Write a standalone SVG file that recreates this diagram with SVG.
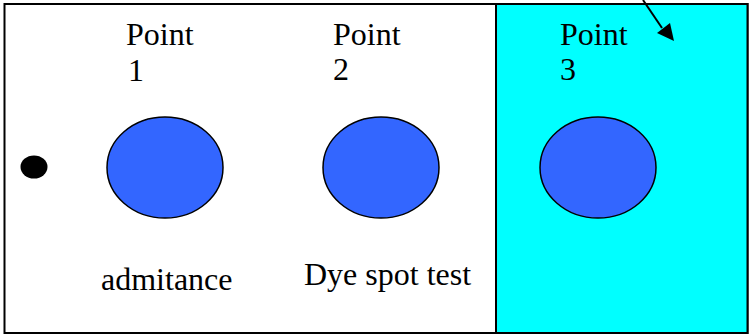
<svg xmlns="http://www.w3.org/2000/svg" width="751" height="335" viewBox="0 0 751 335">
  <defs>
    <style>
      .lbl { font-family: "Liberation Serif", "Times New Roman", serif; font-size: 32px; fill: #000; }
      .spot { fill: #3366ff; stroke: #000; stroke-width: 1.5; }
    </style>
  </defs>
  <rect x="0" y="0" width="751" height="335" fill="#fff"/>
  <g id="frame">
    <rect x="4.5" y="4" width="743" height="329" fill="#fff" stroke="#000" stroke-width="2"/>
  </g>
  <g id="zone3">
    <rect x="496" y="4" width="251.5" height="329" fill="#00ffff" stroke="#000" stroke-width="2"/>
  </g>
  <g id="dot">
    <ellipse cx="34" cy="167" rx="13.5" ry="11.5" fill="#000"/>
  </g>
  <g id="point1">
    <text class="lbl" x="126" y="45">Point</text>
    <text class="lbl" x="128" y="81">1</text>
    <ellipse class="spot" cx="165" cy="167.5" rx="58" ry="50.5"/>
    <text class="lbl" x="101" y="290">admitance</text>
  </g>
  <g id="point2">
    <text class="lbl" x="333" y="45">Point</text>
    <text class="lbl" x="333" y="80">2</text>
    <ellipse class="spot" cx="381" cy="167.5" rx="58" ry="50.5"/>
    <text class="lbl" x="304" y="285">Dye spot test</text>
  </g>
  <g id="point3">
    <text class="lbl" x="560" y="45">Point</text>
    <text class="lbl" x="560" y="80">3</text>
    <ellipse class="spot" cx="598" cy="167.5" rx="58" ry="50.5"/>
  </g>
  <g id="connectors">
    <line x1="643" y1="0" x2="662" y2="28" stroke="#000" stroke-width="2"/>
    <path d="M674,41 L657,33 L670,23 z" fill="#000"/>
  </g>
</svg>
